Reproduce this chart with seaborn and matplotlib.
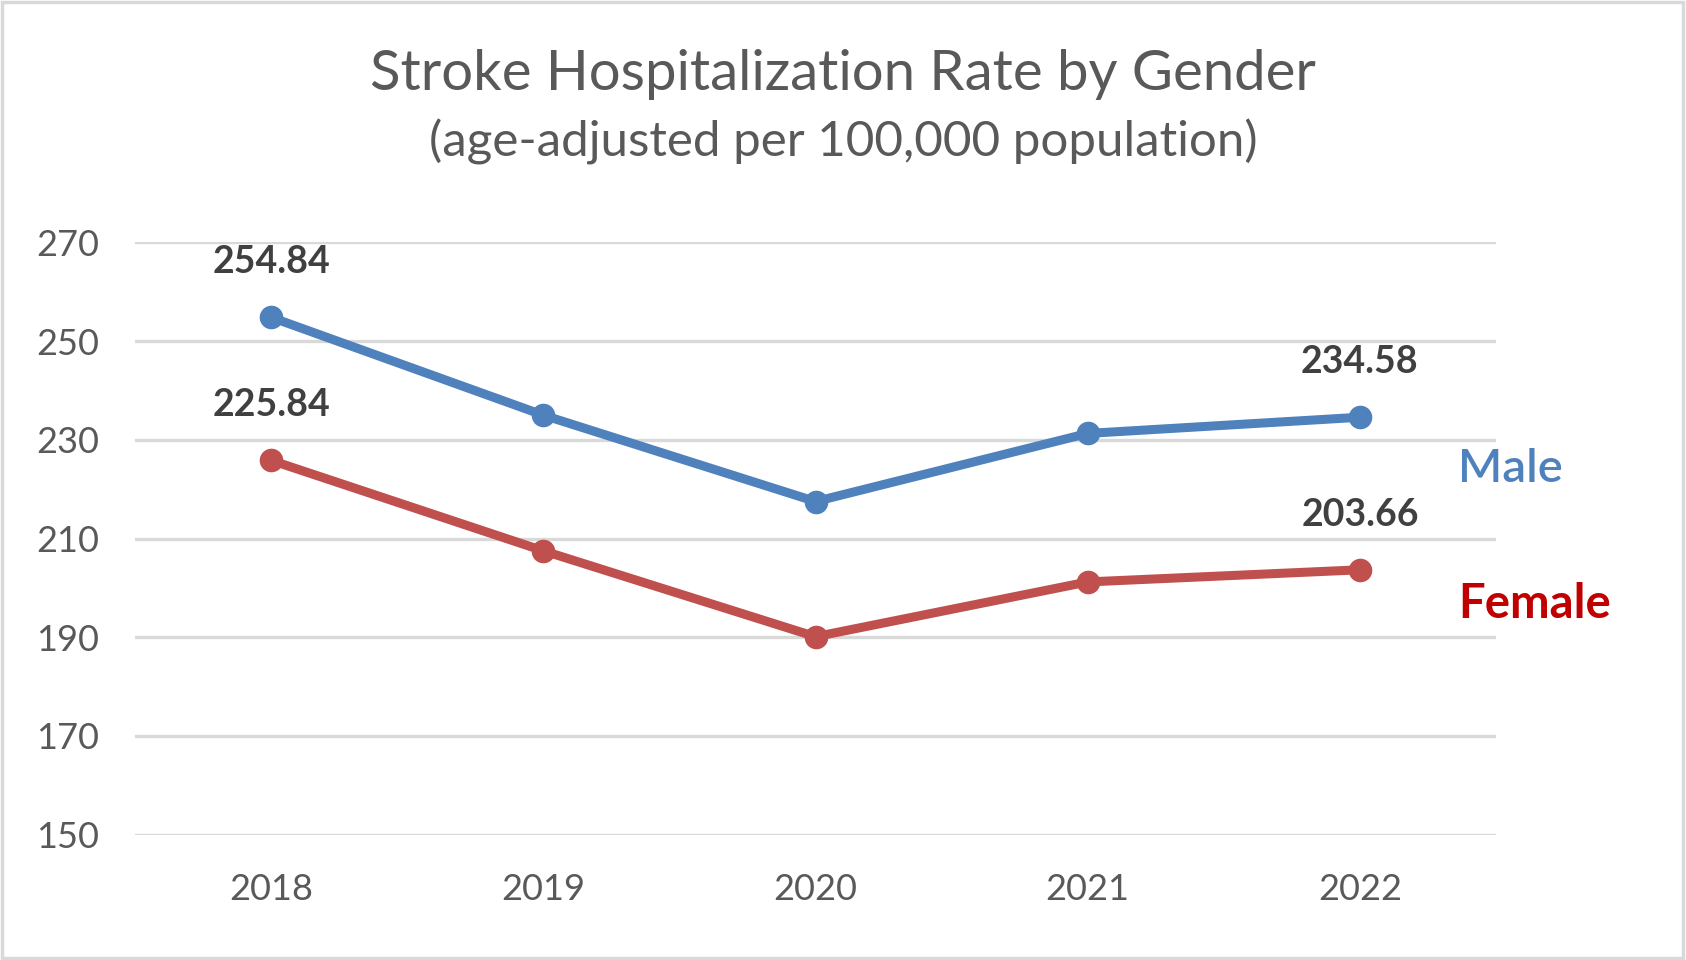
"""
Stroke hospitalization rate by gender, 2018-2022 (age-adjusted per 100,000).
Output: out.png
"""

import matplotlib.pyplot as plt
import matplotlib.patches as mpatches
import pandas as pd
import seaborn as sns

# ── Style ─────────────────────────────────────────────────────────────────────
sns.set_theme(style="white")
plt.rcParams["font.family"] = ["Lato", "DejaVu Sans"]
MALE_BLUE = "#4f81bd"
FEMALE_RED = "#c0504d"
FEMALE_TXT = "#c00000"
GREY_TXT = "#595959"
GRID = "#d9d9d9"

# ── Data ──────────────────────────────────────────────────────────────────────
years = [2018, 2019, 2020, 2021, 2022]
male = [254.84, 235.0, 217.5, 231.3, 234.58]
female = [225.84, 207.5, 190.1, 201.2, 203.66]
y_ticks = [150, 170, 190, 210, 230, 250, 270]

df = pd.DataFrame({
    "year": years * 2,
    "rate": male + female,
    "gender": ["Male"] * len(years) + ["Female"] * len(years),
})

# ── Figure ────────────────────────────────────────────────────────────────────
fig = plt.figure(figsize=(16.86, 9.6), dpi=100)
ax = fig.add_axes([0.0801, 0.1307, 0.8072, 0.6167])

sns.lineplot(
    data=df, x="year", y="rate", hue="gender",
    palette={"Male": MALE_BLUE, "Female": FEMALE_RED},
    marker="o", markersize=17, markeredgewidth=0, linewidth=6.5,
    legend=False, ax=ax,
)

ax.set_xlim(years[0] - 0.5, years[-1] + 0.5)
ax.set_ylim(y_ticks[0], y_ticks[-1])
ax.set_xticks(years)
ax.set_xticklabels([str(y) for y in years])
ax.set_yticks(y_ticks)
ax.yaxis.grid(True, color=GRID, linewidth=2.4)
ax.set_axisbelow(True)
for s in ax.spines.values():
    s.set_visible(False)
ax.tick_params(axis="y", length=0, pad=26, labelsize=26, labelcolor=GREY_TXT)
ax.tick_params(axis="x", length=0, pad=28, labelsize=26, labelcolor=GREY_TXT)
ax.set_xlabel("")
ax.set_ylabel("")

# data labels on first and last points
for series in (male, female):
    for i in (0, len(years) - 1):
        ax.annotate(f"{series[i]:.2f}", xy=(years[i], series[i]),
                    xytext=(0, 55), textcoords="offset pixels",
                    ha="center", va="center", fontsize=27,
                    fontweight="bold", color="#404040")

# series names at the right end
ax.annotate("Male", xy=(years[-1], male[-1]), xytext=(98, -52),
            textcoords="offset pixels", ha="left", va="center",
            fontsize=34, fontweight="semibold", color=MALE_BLUE,
            annotation_clip=False)
ax.annotate("Female", xy=(years[-1], female[-1]), xytext=(98, -34),
            textcoords="offset pixels", ha="left", va="center",
            fontsize=34, fontweight="bold", color=FEMALE_TXT,
            annotation_clip=False)

fig.text(0.5, 1 - 75 / 960, "Stroke Hospitalization Rate by Gender",
         ha="center", va="center", fontsize=40.5, color=GREY_TXT)
fig.text(0.5, 1 - 142 / 960, "(age-adjusted per 100,000 population)",
         ha="center", va="center", fontsize=35.5, color=GREY_TXT)

fig.patches.append(mpatches.Rectangle((0.001, 0.002), 0.997, 0.996,
                                      transform=fig.transFigure, fill=False,
                                      edgecolor=GRID, linewidth=2.5))

fig.savefig("out.png", dpi=100, facecolor="white")
plt.close()
